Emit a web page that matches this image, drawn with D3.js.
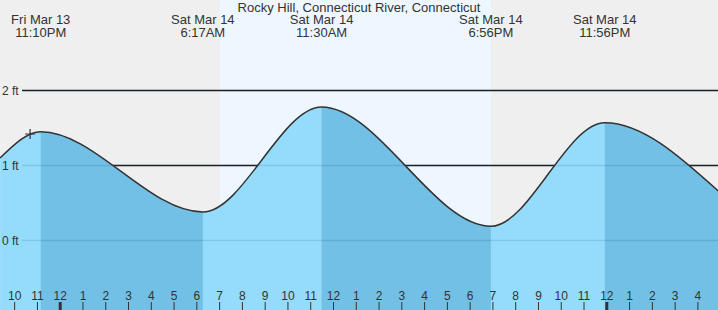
<!DOCTYPE html>
<html>
<head>
<meta charset="utf-8">
<script src="https://cdn.jsdelivr.net/npm/d3@7"></script>
<style>
  body { margin: 0; background: #efefef; }
  svg { display: block; font-family: "Liberation Sans", Arial, sans-serif; }
</style>
</head>
<body>
<svg width="718" height="310"></svg>
<script>

var title = 'Rocky Hill, Connecticut River, Connecticut'

// curve points: first and last are the chart edges, the rest are highs / lows
var tide_times = ['2020-03-13 21:23', '2020-03-13 23:10', '2020-03-14 06:17', '2020-03-14 11:30',
                  '2020-03-14 18:56', '2020-03-14 23:56', '2020-03-15 04:55']
var tide_heights = [1.10, 1.45, 0.38, 1.78, 0.19, 1.57, 0.66]

var extreme_dates = ['Fri Mar 13', 'Sat Mar 14', 'Sat Mar 14', 'Sat Mar 14', 'Sat Mar 14']
var extreme_labels = ['11:10PM', '6:17AM', '11:30AM', '6:56PM', '11:56PM']

var daylight = ['2020-03-14 07:02', '2020-03-14 18:56']
var now_time = '2020-03-13 22:42'
var now_height = 1.42

var ft_ticks = [0, 1, 2]

var W = 718, H = 310
var parse = d3.timeParse('%Y-%m-%d %H:%M')
var svg = d3.select('svg')

var x = d3.scaleTime()
  .domain([parse('2020-03-14 00:00'), parse('2020-03-15 00:00')])
  .range([59.7, 606.3])
var y = d3.scaleLinear().domain([0, 2]).range([240.5, 90.5])

var points = tide_times.map((t, i) => ({ t: parse(t), h: tide_heights[i] }))

// day / night background
svg.append('rect').attr('width', W).attr('height', H).attr('fill', '#efefef')
svg.append('rect')
  .attr('x', x(parse(daylight[0])))
  .attr('width', x(parse(daylight[1])) - x(parse(daylight[0])))
  .attr('height', H)
  .attr('fill', '#eef7ff')

// grid lines under the water
function grid (stroke) {
  svg.append('g').selectAll('line')
    .data(ft_ticks)
    .enter().append('line')
      .attr('x1', 22).attr('x2', W)
      .attr('y1', (d) => y(d)).attr('y2', (d) => y(d))
      .attr('stroke', stroke)
      .attr('stroke-width', 1.3)
}
grid('#222')

var area = d3.area()
  .x((d) => x(d.t))
  .y0(H)
  .y1((d) => y(d.h))
  .curve(d3.curveMonotoneX)

var line = d3.line()
  .x((d) => x(d.t))
  .y((d) => y(d.h))
  .curve(d3.curveMonotoneX)

// rising water light, falling water dark
svg.append('path').datum(points).attr('d', area).attr('fill', '#95dbfb')

var defs = svg.append('defs')
var falling = []
points.forEach((p, i) => {
  if (i > 0 && i < points.length - 1 && p.h > points[i - 1].h) {
    var end = i + 1 < points.length - 1 ? x(points[i + 1].t) : W
    falling.push([x(p.t), end])
  }
})
falling.forEach((seg, i) => {
  defs.append('clipPath').attr('id', 'fall' + i)
    .append('rect').attr('x', seg[0]).attr('y', 0)
    .attr('width', seg[1] - seg[0]).attr('height', H)
  svg.append('path').datum(points)
    .attr('d', area)
    .attr('fill', '#72c0e5')
    .attr('clip-path', 'url(#fall' + i + ')')
})

grid('rgba(0,50,90,0.12)')

svg.append('path').datum(points)
  .attr('d', line)
  .attr('fill', 'none')
  .attr('stroke', '#333')
  .attr('stroke-width', 1.5)

// now marker
var nx = x(parse(now_time)), ny = y(now_height)
svg.append('path')
  .attr('d', 'M' + (nx - 5) + ',' + ny + 'H' + (nx + 5) + 'M' + nx + ',' + (ny - 5) + 'V' + (ny + 5))
  .attr('stroke', '#333')
  .attr('stroke-width', 1.2)

// ft labels
svg.append('g').selectAll('text')
  .data(ft_ticks)
  .enter().append('text')
    .attr('x', 2)
    .attr('y', (d) => y(d) + 4)
    .attr('font-size', 12)
    .attr('fill', '#333')
    .text((d) => d + ' ft')

// hour axis along the bottom, over the whole visible span
var axis = d3.axisTop(x)
  .tickValues(d3.timeHour.range(x.invert(0), x.invert(W)))
  .tickFormat(d3.timeFormat('%-I'))
  .tickSize(8)
  .tickPadding(2)

var ax = svg.append('g')
  .attr('transform', 'translate(0,' + H + ')')
  .call(axis)
ax.select('.domain').remove()
ax.selectAll('text')
  .attr('font-size', 12)
  .attr('font-family', '"Liberation Sans", Arial, sans-serif')
  .attr('fill', '#333')
ax.selectAll('line')
  .attr('stroke', '#333')
  .attr('stroke-width', (d) => d.getHours() === 0 ? 3 : 1)

// high / low labels
var extremes = points.slice(1, points.length - 1)
var labels = svg.append('g').selectAll('g')
  .data(extremes)
  .enter().append('g')
    .attr('transform', (d) => 'translate(' + x(d.t) + ',0)')
labels.append('text')
  .attr('y', 24)
  .attr('text-anchor', 'middle')
  .attr('font-size', 13)
  .attr('fill', '#333')
  .text((d, i) => extreme_dates[i])
labels.append('text')
  .attr('y', 37)
  .attr('text-anchor', 'middle')
  .attr('font-size', 13)
  .attr('fill', '#333')
  .text((d, i) => extreme_labels[i])

svg.append('text')
  .attr('x', 359).attr('y', 12)
  .attr('text-anchor', 'middle')
  .attr('font-size', 13)
  .attr('fill', '#333')
  .text(title)

</script>
</body>
</html>
